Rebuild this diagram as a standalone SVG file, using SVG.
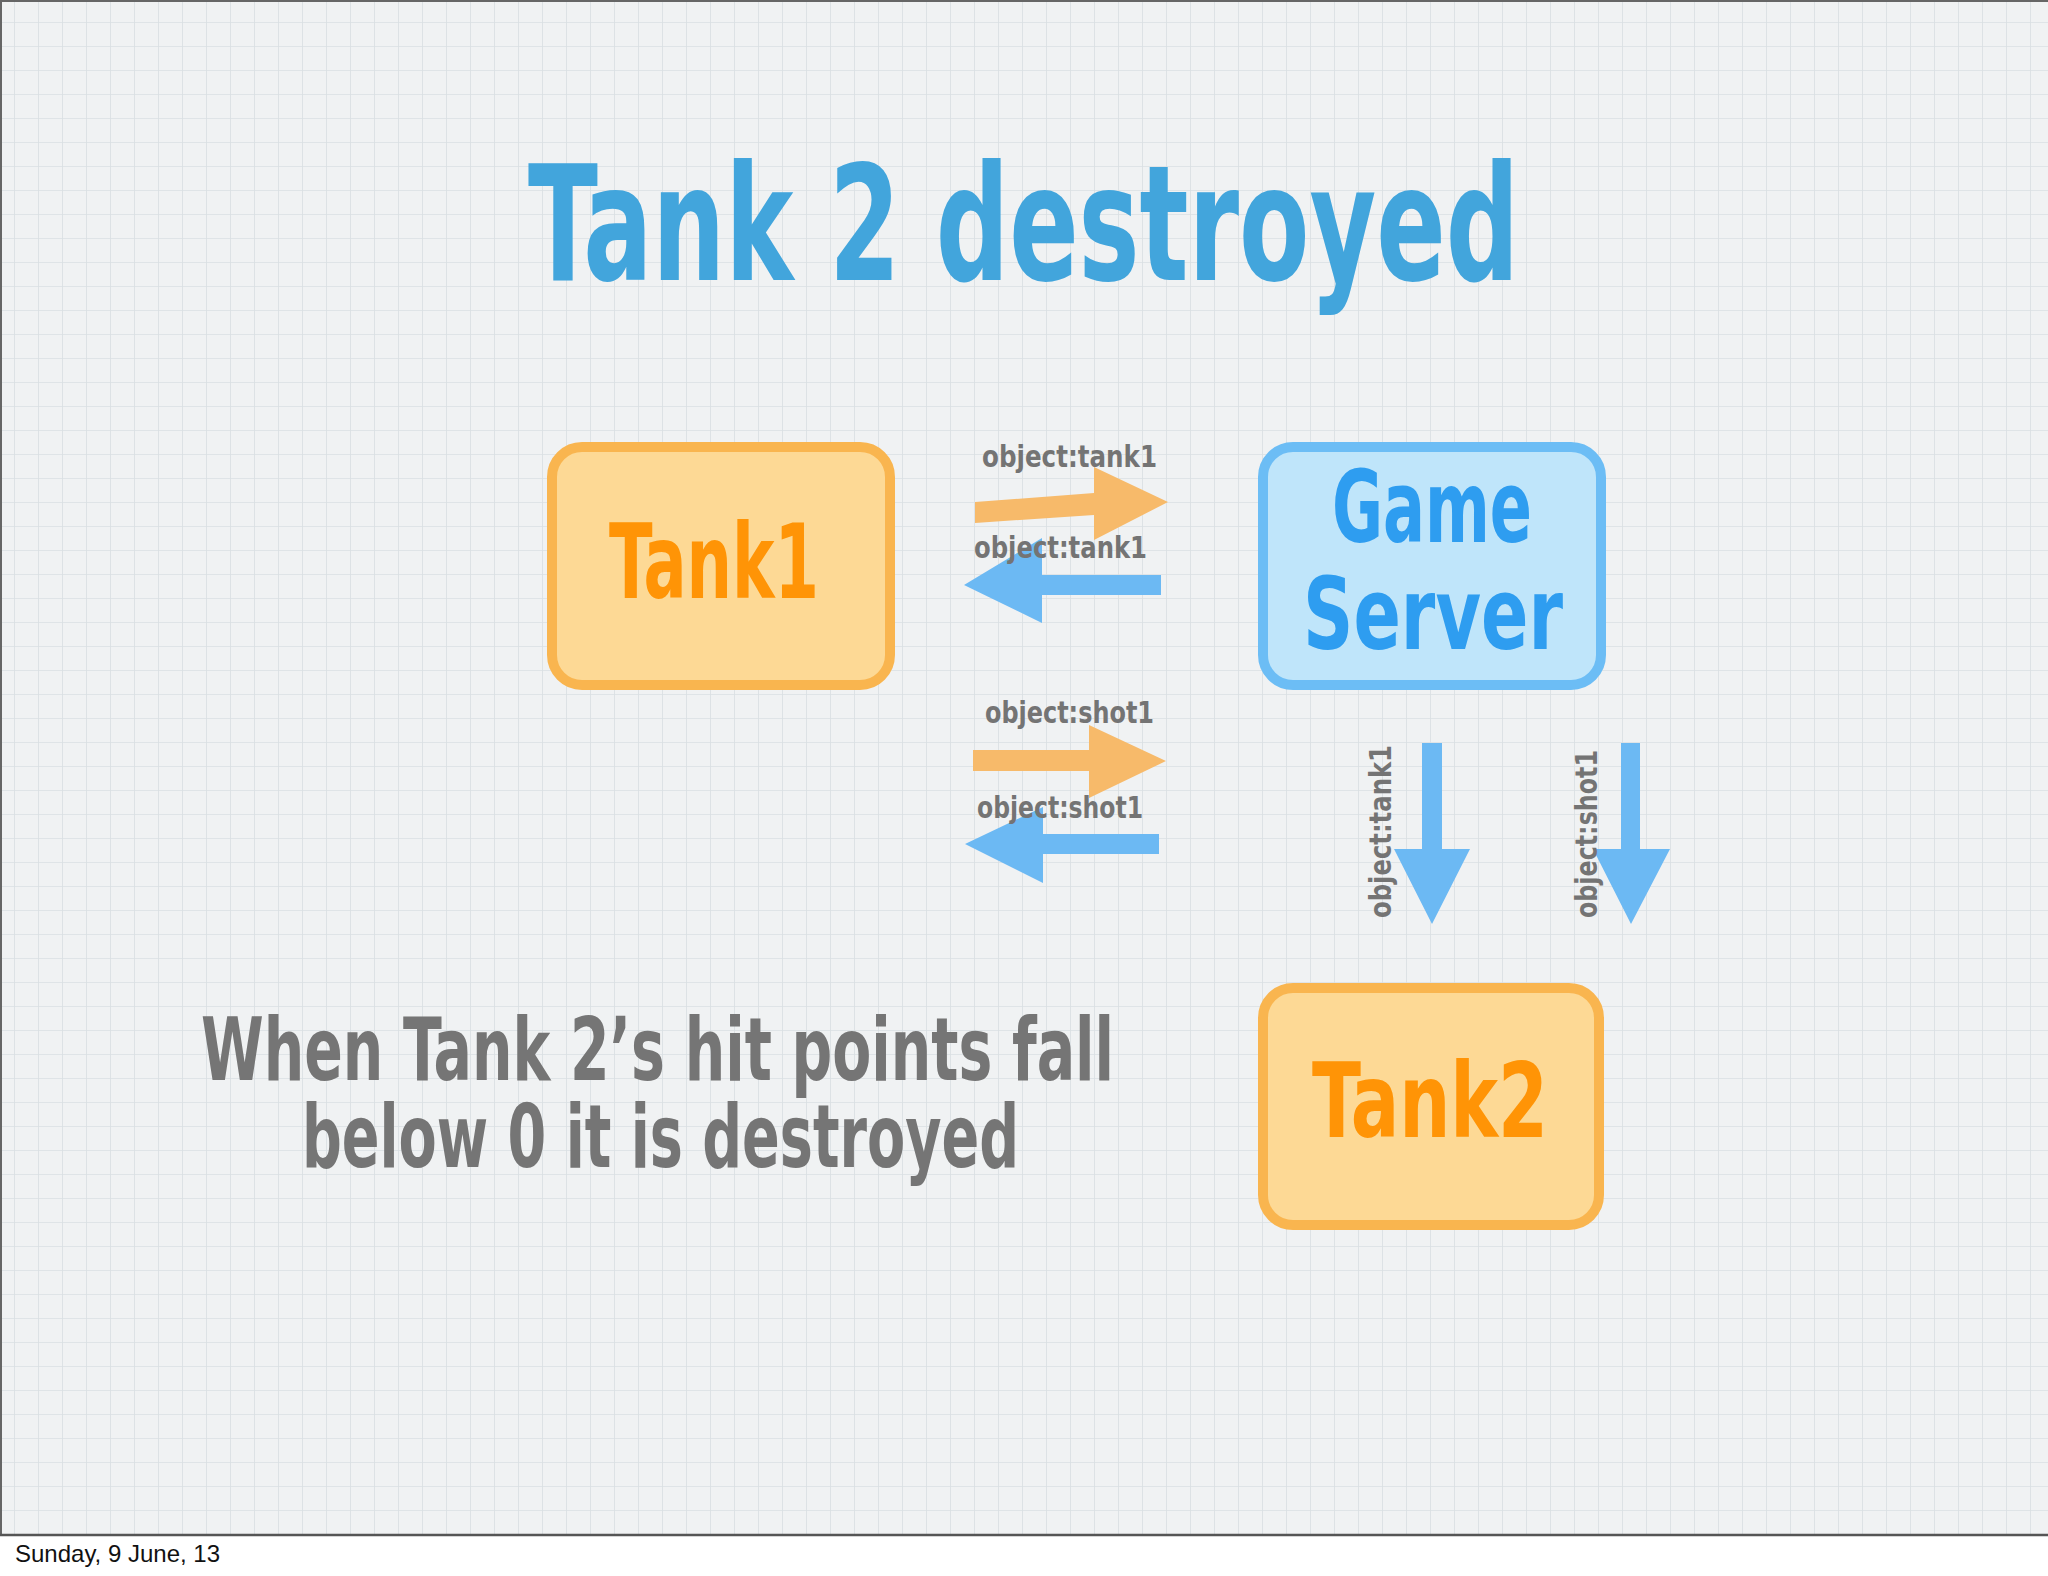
<svg xmlns="http://www.w3.org/2000/svg" width="2048" height="1576" viewBox="0 0 2048 1576">
<defs>
<pattern id="grid" x="-9" y="-1" width="24" height="24" patternUnits="userSpaceOnUse">
<rect width="24" height="24" fill="#f0f2f3"/>
<path d="M24 0 V24 M0 24 H24" stroke="#dae0e3" stroke-width="1.7" fill="none"/>
</pattern>
<style>
.hand{font-family:"DejaVu Sans Condensed","Liberation Sans Narrow","Liberation Sans",sans-serif;font-weight:bold;}
.title{fill:#42a5dc;font-size:160px;}
.orangeTxt{fill:#ff9406;font-size:104px;}
.blueTxt{fill:#2e9df0;font-size:100px;}
.lbl{fill:#747474;font-size:30px;}
.note{fill:#757575;font-size:87px;}
.box-o{fill:#fdd995;stroke:#f9b54f;stroke-width:10;}
.box-b{fill:#bfe5fa;stroke:#6cbdf5;stroke-width:10;}
.arr-o{fill:#f7ba6a;}
.arr-b{fill:#6cb9f3;}
</style>
</defs>
<rect x="0" y="0" width="2048" height="1576" fill="#ffffff"/>
<rect x="0" y="0" width="2048" height="1535" fill="url(#grid)"/>
<path d="M1 1535 V1 H2048" stroke="#666" stroke-width="2" fill="none"/>
<line x1="0" y1="1535" x2="2048" y2="1535" stroke="#555" stroke-width="2.5"/>

<text class="hand title" x="528" y="280" textLength="991" lengthAdjust="spacingAndGlyphs">Tank 2 destroyed</text>

<g id="tank1">
<rect class="box-o" x="552" y="447" width="338" height="238" rx="30"/>
<text class="hand orangeTxt" x="609" y="598" textLength="210" lengthAdjust="spacingAndGlyphs">Tank1</text>
</g>
<g id="gameserver">
<rect class="box-b" x="1263" y="447" width="338" height="238" rx="30"/>
<text class="hand blueTxt" x="1332" y="542" textLength="200" lengthAdjust="spacingAndGlyphs">Game</text>
<text class="hand blueTxt" x="1303" y="649" textLength="260" lengthAdjust="spacingAndGlyphs">Server</text>
</g>
<g id="tank2">
<rect class="box-o" x="1263" y="988" width="336" height="237" rx="30"/>
<text class="hand orangeTxt" x="1312" y="1137" textLength="236" lengthAdjust="spacingAndGlyphs">Tank2</text>
</g>

<g id="connectors">
<polygon class="arr-o" points="975,502 1094,493 1094,467 1168,502 1094,540 1094,515 975,523"/>
<polygon class="arr-b" points="1161,575 1042,575 1042,538 964,585 1042,623 1042,595 1161,595"/>
<polygon class="arr-o" points="973,750 1089,750 1089,725 1166,761 1089,798 1089,771 973,771"/>
<polygon class="arr-b" points="1159,834 1043,834 1043,807 965,844 1043,883 1043,854 1159,854"/>
<polygon class="arr-b" points="1422,743 1442,743 1442,849 1470,849 1432,924 1394,849 1422,849"/>
<polygon class="arr-b" points="1621,743 1640,743 1640,849 1670,849 1631,924 1593,849 1621,849"/>
<text class="hand lbl" x="982" y="467" textLength="175" lengthAdjust="spacingAndGlyphs">object:tank1</text>
<text class="hand lbl" x="974" y="558" textLength="173" lengthAdjust="spacingAndGlyphs">object:tank1</text>
<text class="hand lbl" x="985" y="723" textLength="169" lengthAdjust="spacingAndGlyphs">object:shot1</text>
<text class="hand lbl" x="977" y="818" textLength="166" lengthAdjust="spacingAndGlyphs">object:shot1</text>
<text class="hand lbl" transform="translate(1391,918) rotate(-90)" x="0" y="0" textLength="173" lengthAdjust="spacingAndGlyphs">object:tank1</text>
<text class="hand lbl" transform="translate(1597,918) rotate(-90)" x="0" y="0" textLength="168" lengthAdjust="spacingAndGlyphs">object:shot1</text>
</g>

<text class="hand note" x="201" y="1080" textLength="913" lengthAdjust="spacingAndGlyphs">When Tank 2’s hit points fall</text>
<text class="hand note" x="302" y="1167" textLength="717" lengthAdjust="spacingAndGlyphs">below 0 it is destroyed</text>

<text x="15" y="1562" font-family="Liberation Sans, Arial, sans-serif" font-size="24" fill="#111">Sunday, 9 June, 13</text>
</svg>
